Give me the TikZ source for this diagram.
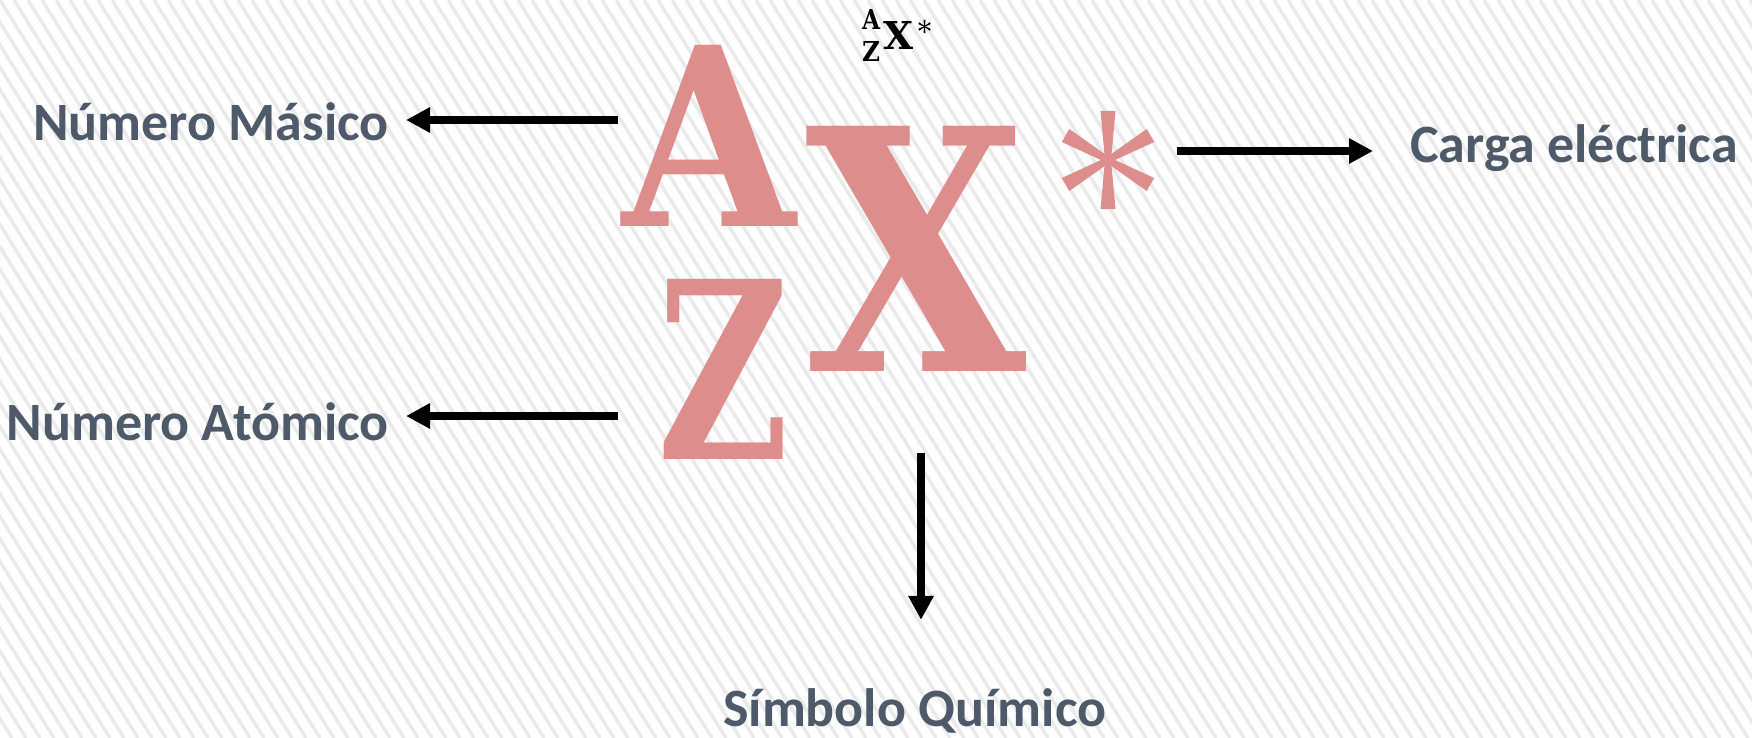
\documentclass[tikz,border=0pt]{standalone}
\usepackage{fontspec}
\usepackage{graphicx}
\newfontfamily\labfont{Carlito}
\newfontfamily\symfont{DejaVu Serif}
\usetikzlibrary{arrows.meta}
\definecolor{labcol}{RGB}{78,90,106}
\definecolor{pinkcol}{RGB}{222,141,141}
\definecolor{stripecol}{RGB}{234,234,234}
\tikzset{
  lab/.style={font=\labfont\bfseries\fontsize{54}{60}\selectfont, text=labcol, inner sep=0pt},
  arr/.style={line width=8pt, -{Triangle[length=24pt,width=24pt]}},
  big/.style={inner sep=0pt, text=pinkcol},
  small/.style={inner sep=0pt, text=black},
  astk/.pic={\foreach \t in {30,90,...,330}{\fill[rotate=\t] (0,-3) -- (49,-7.5) -- (49,7.5) -- (0,3) -- cycle;}}
}
\begin{document}
\begin{tikzpicture}[x=1pt,y=-1pt]
\useasboundingbox (0,0) rectangle (1752,738);
\fill[white] (0,0) rectangle (1752,738);
\begin{scope}
  \clip (0,0) rectangle (1752,738);
  \foreach \i in {-34,...,126} \draw[stripecol, line width=3.5pt] (\i*14,0) -- ++(460,738);
\end{scope}
% big symbol
\node[big, anchor=south west] (bA) at (622,227) {\resizebox{173pt}{181pt}{\symfont\bfseries A}};
\node[big, anchor=south west] (bZ) at (657,460) {\resizebox{132pt}{180pt}{\symfont\bfseries Z}};
\node[big, anchor=south west] (bX) at (805,372) {\resizebox{221pt}{245pt}{\symfont\bfseries X}};
\pic[color=pinkcol] (bS) at (1108,160) {astk};
% small formula
\node[small, anchor=south west] (sA) at (862,30) {\resizebox{18pt}{20pt}{\symfont\bfseries A}};
\node[small, anchor=south west] (sZ) at (862,62) {\resizebox{18pt}{20pt}{\symfont\bfseries Z}};
\node[small, anchor=south west] (sX) at (883,50) {\resizebox{30pt}{28pt}{\symfont\bfseries X}};
\pic[color=black, scale=0.135] (sS) at (924.5,26.5) {astk};
% labels
\node[lab, anchor=base east] (mm) at (389,141) {Número Másico};
\node[lab, anchor=base east] (ma) at (389,440) {Número Atómico};
\node[lab, anchor=base west] (ce) at (1410,163) {Carga eléctrica};
\node[lab, anchor=base west] (sq) at (723,726) {Símbolo Químico};
% arrows
\coordinate (s1) at (618,120);
\coordinate (s2) at (618,416);
\coordinate (s3) at (1177,151);
\coordinate (s4) at (921,453);
\draw[arr, shorten >=17pt] (s1) -- (s1 -| mm.east);
\draw[arr, shorten >=17pt] (s2) -- (s2 -| ma.east);
\draw[arr, shorten >=37pt] (s3) -- (s3 -| ce.west);
\draw[arr, shorten >=68pt] (s4) -- (s4 |- sq.north);
\end{tikzpicture}
\end{document}
